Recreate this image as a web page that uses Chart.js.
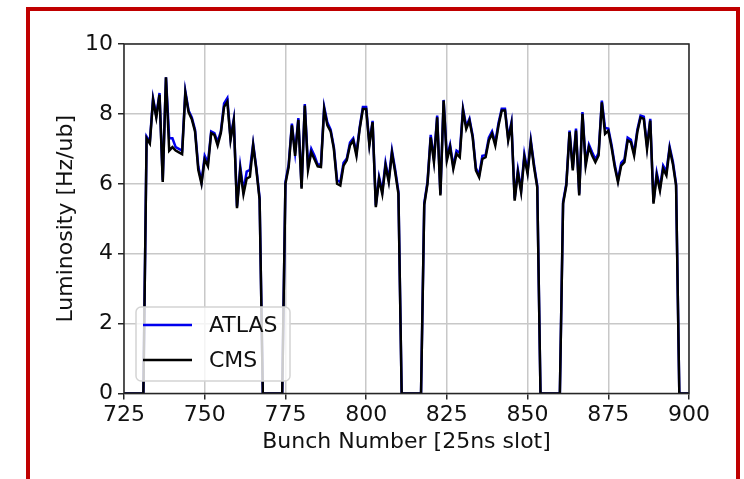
<!DOCTYPE html>
<html>
<head>
<meta charset="utf-8">
<title>Luminosity per bunch</title>
<script src="https://cdn.jsdelivr.net/npm/chart.js@4.4.1/dist/chart.umd.min.js"></script>
<style>
  html, body { margin: 0; padding: 0; background: #fff; overflow: hidden; }
  #wrap { position: relative; width: 744px; height: 479px; }
  #frame {
    position: absolute; left: 26px; top: 7px; width: 714px; height: 520px;
    box-sizing: border-box; border: 4px solid #c00000; pointer-events: none;
  }
  canvas { position: absolute; left: 0; top: 0; }
</style>
</head>
<body>
<div id="wrap">
  <canvas id="lumi" width="744" height="479"></canvas>
  <div id="frame"></div>
</div>
<script>
// bunch slots 725..900, one value per slot
const firstBunch = 725;

const cmsLumi = [
  0, 0, 0, 0, 0, 0, 0,
  7.3, 7.15, 8.4, 7.9, 8.55, 6.05, 9.05, 6.95, 7.05, 6.95, 6.9, 6.85, 8.6, 8.05, 7.85, 7.5, 6.4, 6.0,
  6.7, 6.5, 7.45, 7.4, 7.1, 7.45, 8.2, 8.35, 7.25, 7.8, 5.3, 6.4, 5.7, 6.15, 6.2, 7.1, 6.4, 5.55,
  0, 0, 0, 0, 0, 0, 0,
  6.0, 6.48, 7.67, 6.8, 7.83, 5.86, 8.24, 6.4, 6.9, 6.7, 6.5, 6.48, 8.14, 7.67, 7.5, 7.0, 6.0, 5.95,
  6.52, 6.67, 7.1, 7.24, 6.8, 7.57, 8.14, 8.14, 7.1, 7.76, 5.33, 6.14, 5.71, 6.52, 6.05, 6.88, 6.33, 5.71,
  0, 0, 0, 0, 0, 0, 0,
  5.4, 6.0, 7.33, 6.62, 7.9, 5.67, 8.38, 6.67, 7.05, 6.43, 6.86, 6.76, 8.1, 7.57, 7.81, 7.33, 6.38, 6.19,
  6.71, 6.76, 7.24, 7.43, 7.1, 7.67, 8.1, 8.1, 7.24, 7.71, 5.52, 6.33, 5.76, 6.76, 6.29, 7.19, 6.48, 5.9,
  0, 0, 0, 0, 0, 0, 0,
  5.43, 5.95, 7.48, 6.38, 7.52, 5.67, 8.0, 6.52, 7.05, 6.81, 6.62, 6.81, 8.33, 7.43, 7.52, 7.05, 6.48, 6.05,
  6.52, 6.62, 7.24, 7.19, 6.81, 7.48, 7.9, 7.86, 7.0, 7.81, 5.43, 6.24, 5.81, 6.43, 6.24, 7.0, 6.57, 5.95,
  0, 0, 0, 0
];

const atlasLumi = [
  0, 0, 0, 0, 0, 0, 0,
  7.35, 7.2, 8.45, 7.95, 8.6, 6.1, 9.05, 7.3, 7.3, 7.05, 7.0, 6.95, 8.65, 8.1, 7.9, 7.55, 6.5, 6.05,
  6.8, 6.6, 7.5, 7.45, 7.2, 7.5, 8.3, 8.45, 7.3, 7.85, 5.35, 6.5, 5.8, 6.35, 6.4, 7.15, 6.45, 5.6,
  0, 0, 0, 0, 0, 0, 0,
  6.05, 6.55, 7.72, 6.9, 7.88, 5.9, 8.28, 6.5, 7.0, 6.8, 6.55, 6.55, 8.2, 7.75, 7.55, 7.05, 6.1, 6.05,
  6.6, 6.72, 7.18, 7.3, 6.88, 7.62, 8.2, 8.2, 7.15, 7.8, 5.38, 6.2, 5.78, 6.6, 6.12, 6.95, 6.4, 5.78,
  0, 0, 0, 0, 0, 0, 0,
  5.45, 6.05, 7.4, 6.7, 7.95, 5.72, 8.4, 6.75, 7.12, 6.5, 6.95, 6.88, 8.15, 7.65, 7.86, 7.38, 6.45, 6.25,
  6.8, 6.82, 7.32, 7.5, 7.18, 7.74, 8.15, 8.15, 7.3, 7.76, 5.58, 6.4, 5.82, 6.85, 6.36, 7.25, 6.55, 5.95,
  0, 0, 0, 0, 0, 0, 0,
  5.48, 6.0, 7.52, 6.45, 7.58, 5.72, 8.05, 6.6, 7.12, 6.9, 6.7, 6.88, 8.38, 7.6, 7.58, 7.12, 6.55, 6.1,
  6.6, 6.7, 7.32, 7.26, 6.88, 7.55, 7.95, 7.92, 7.08, 7.86, 5.48, 6.32, 5.88, 6.52, 6.35, 7.06, 6.64, 6.0,
  0, 0, 0, 0
];

const xTicks = [725, 750, 775, 800, 825, 850, 875, 900];
const yTicks = [0, 2, 4, 6, 8, 10];

const FONT = "'DejaVu Sans', sans-serif";
const toPoints = arr => arr.map((v, i) => ({ x: firstBunch + i, y: v }));

// matplotlib-style legend drawn inside the plot, lower left
const insideLegend = {
  id: 'insideLegend',
  afterDatasetsDraw(chart) {
    const ctx = chart.ctx;
    const x = 136, y = 307, w = 154, h = 74, r = 5;
    ctx.save();
    ctx.beginPath();
    ctx.roundRect(x, y, w, h, r);
    ctx.fillStyle = 'rgba(255,255,255,0.8)';
    ctx.fill();
    ctx.strokeStyle = '#d4d4d4';
    ctx.lineWidth = 1.5;
    ctx.stroke();
    const items = [
      { label: 'ATLAS', color: chart.data.datasets[1].borderColor, cy: 325 },
      { label: 'CMS', color: chart.data.datasets[0].borderColor, cy: 360 }
    ];
    ctx.font = '22px ' + FONT;
    ctx.textBaseline = 'middle';
    items.forEach(it => {
      ctx.beginPath();
      ctx.moveTo(143, it.cy);
      ctx.lineTo(192, it.cy);
      ctx.strokeStyle = it.color;
      ctx.lineWidth = 2.5;
      ctx.stroke();
      ctx.fillStyle = '#111';
      ctx.fillText(it.label, 209, it.cy + 1);
    });
    ctx.restore();
  },
  afterDraw(chart) {
    // full box of spines
    const a = chart.chartArea, ctx = chart.ctx;
    ctx.save();
    ctx.strokeStyle = '#262626';
    ctx.lineWidth = 1.5;
    ctx.strokeRect(a.left, a.top, a.right - a.left, a.bottom - a.top);
    ctx.restore();
  }
};

new Chart(document.getElementById('lumi'), {
  type: 'line',
  data: {
    datasets: [
      {
        label: 'CMS',
        data: toPoints(cmsLumi),
        borderColor: '#000000',
        borderWidth: 2.5,
        pointRadius: 0,
        tension: 0,
        order: 0
      },
      {
        label: 'ATLAS',
        data: toPoints(atlasLumi),
        borderColor: '#0000ee',
        borderWidth: 2.5,
        pointRadius: 0,
        tension: 0,
        order: 1
      }
    ]
  },
  options: {
    responsive: false,
    animation: false,
    layout: { padding: { left: 53, right: 55, top: 44, bottom: 24 } },
    plugins: {
      legend: { display: false },
      tooltip: { enabled: false }
    },
    scales: {
      x: {
        type: 'linear',
        min: 725,
        max: 900,
        afterBuildTicks: s => { s.ticks = xTicks.map(v => ({ value: v })); },
        afterFit: s => { s.height = 61.5; },
        grid: { color: '#c8c8c8', lineWidth: 1.5, tickColor: '#262626', tickLength: 6 },
        border: { display: false },
        ticks: { color: '#111', font: { family: FONT, size: 22 }, padding: 3, maxRotation: 0 },
        title: {
          display: true,
          text: 'Bunch Number [25ns slot]',
          color: '#111',
          font: { family: FONT, size: 22 },
          padding: { top: 4, bottom: 0 }
        }
      },
      y: {
        min: 0,
        max: 10,
        afterBuildTicks: s => { s.ticks = yTicks.map(v => ({ value: v })); },
        afterFit: s => { s.width = 71; },
        grid: { color: '#c8c8c8', lineWidth: 1.5, tickColor: '#262626', tickLength: 6 },
        border: { display: false },
        ticks: { color: '#111', font: { family: FONT, size: 22 }, padding: 5 },
        title: {
          display: true,
          text: 'Luminosity [Hz/ub]',
          color: '#111',
          font: { family: FONT, size: 22 },
          padding: { top: 0, bottom: 0 }
        }
      }
    }
  },
  plugins: [insideLegend]
});
</script>
</body>
</html>
